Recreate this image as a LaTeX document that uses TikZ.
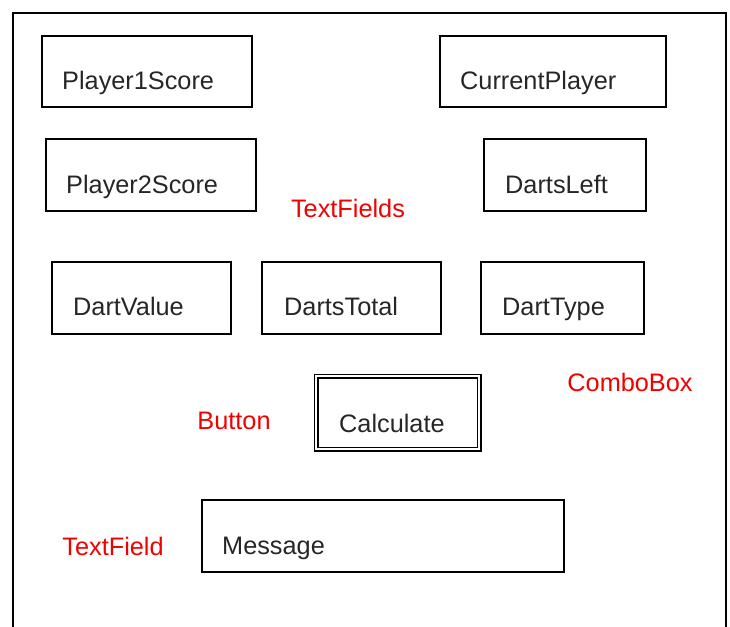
\documentclass[tikz,border=0pt]{standalone}
\usepackage{fontspec}
\setmainfont{Liberation Sans}
\begin{document}
\begin{tikzpicture}[x=1pt,y=-1pt,
  frame/.style={draw=black,line width=2.5pt},
  box/.style={draw=black,line width=2pt,anchor=north west,inner sep=0pt},
  btn/.style={draw=black,double=white,line width=1.3pt,double distance=2.4pt,anchor=north west,inner sep=0pt},
  lbl/.style={anchor=base west,inner sep=0pt,text=black!85,font=\fontsize{25.3}{29}\selectfont},
  red/.style={anchor=base,inner sep=0pt,text=red!95!black,font=\fontsize{25.3}{29}\selectfont}]
\useasboundingbox (0,0) rectangle (730,626);
% outer frame
\coordinate (fbl) at (13,630);
\coordinate (ftl) at (13,13);
\coordinate (ftr) at (726,13);
\coordinate (fbr) at (726,630);
\draw[frame] (fbl) -- (ftl) -- (ftr) -- (fbr);
% boxes
\node[box,minimum width=210pt,minimum height=71pt] (p1) at (41,35) {};
\node[lbl] (p1t) at (62,89) {Player1Score};
\node[box,minimum width=226pt,minimum height=71pt] (cp) at (439,35) {};
\node[lbl] (cpt) at (460,89) {CurrentPlayer};
\node[box,minimum width=210pt,minimum height=72pt] (p2) at (45,138) {};
\node[lbl] (p2t) at (66,193) {Player2Score};
\node[box,minimum width=162pt,minimum height=72pt] (dl) at (483,138) {};
\node[lbl] (dlt) at (505,193) {DartsLeft};
\node[box,minimum width=179pt,minimum height=72pt] (dv) at (51,261) {};
\node[lbl] (dvt) at (73,315) {DartValue};
\node[box,minimum width=179pt,minimum height=72pt] (dt) at (261,261) {};
\node[lbl] (dtt) at (284,315) {DartsTotal};
\node[box,minimum width=163pt,minimum height=72pt] (dy) at (480,261) {};
\node[lbl] (dyt) at (502,315) {DartType};
\node[btn,minimum width=163pt,minimum height=73pt] (calc) at (315.5,375.5) {};
\node[lbl] (calct) at (339,432) {Calculate};
\node[box,minimum width=362pt,minimum height=72pt] (msg) at (201,499) {};
\node[lbl] (msgt) at (222,554) {Message};
% red labels
\node[red] (tfs) at (348,217) {TextFields};
\node[red] (cb) at (630,391) {ComboBox};
\node[red] (bt) at (234,429) {Button};
\node[red] (tf) at (113,555) {TextField};
\end{tikzpicture}
\end{document}
